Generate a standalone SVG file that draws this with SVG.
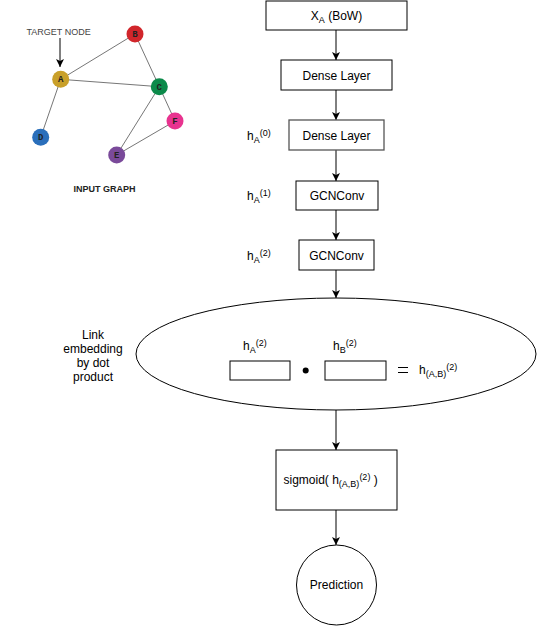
<svg xmlns="http://www.w3.org/2000/svg" width="537" height="626" viewBox="0 0 537 626">
<defs>
<marker id="arr" markerUnits="userSpaceOnUse" markerWidth="10" markerHeight="10" viewBox="0 0 10 10" refX="9" refY="5" orient="auto">
<path d="M1,1 L9,5 L1,9 L3,5 z" fill="#000"/>
</marker>
<style>
text{font-family:"Liberation Sans",Arial,sans-serif;font-size:12px;fill:#000}
.box{fill:#fff;stroke:#000;stroke-width:1}
.conn{stroke:#000;stroke-width:1;fill:none}
.edge{stroke:#666;stroke-width:0.9}
.nl{font-family:"Liberation Mono","Courier New",monospace;font-weight:bold;font-size:9px;fill:#222;text-anchor:middle}
.s{font-size:9px}
</style>
</defs>
<rect width="537" height="626" fill="#fff"/>

<g id="input-graph">
<g class="edge">
<line x1="60.7" y1="79.3" x2="135" y2="34"/>
<line x1="60.7" y1="79.3" x2="159.3" y2="86.7"/>
<line x1="60.7" y1="79.3" x2="40.7" y2="137.3"/>
<line x1="135" y1="34" x2="159.3" y2="86.7"/>
<line x1="159.3" y1="86.7" x2="175" y2="121"/>
<line x1="159.3" y1="86.7" x2="116.7" y2="155"/>
<line x1="116.7" y1="155" x2="175" y2="121"/>
</g>
<g id="node-B"><circle cx="135" cy="34" r="8.5" fill="#d1262b"/><text class="nl" x="135" y="37">B</text></g>
<g id="node-A"><circle cx="60.7" cy="79.3" r="8.5" fill="#c9a02a"/><text class="nl" x="60.7" y="82.3">A</text></g>
<g id="node-C"><circle cx="159.3" cy="86.7" r="8.5" fill="#0b8a4a"/><text class="nl" x="159.3" y="89.7">C</text></g>
<g id="node-F"><circle cx="175" cy="121" r="8.5" fill="#e8338f"/><text class="nl" x="175" y="124">F</text></g>
<g id="node-D"><circle cx="40.7" cy="137.3" r="8.5" fill="#2a6fbb"/><text class="nl" x="40.7" y="140.3">D</text></g>
<g id="node-E"><circle cx="116.7" cy="155" r="8.5" fill="#7a4a9a"/><text class="nl" x="116.7" y="158">E</text></g>
<text x="26.5" y="34.5" style="font-size:9px;fill:#444">TARGET NODE</text>
<line x1="60" y1="38" x2="60" y2="67" class="conn" marker-end="url(#arr)"/>
<text x="104.5" y="192" text-anchor="middle" style="font-size:9px;font-weight:bold;fill:#222">INPUT GRAPH</text>
</g>

<g id="connectors">
<line class="conn" x1="336" y1="30" x2="336" y2="60" marker-end="url(#arr)"/>
<line class="conn" x1="336" y1="90" x2="336" y2="120" marker-end="url(#arr)"/>
<line class="conn" x1="336" y1="150" x2="336" y2="181" marker-end="url(#arr)"/>
<line class="conn" x1="336" y1="210" x2="336" y2="240" marker-end="url(#arr)"/>
<line class="conn" x1="336" y1="270" x2="336" y2="298" marker-end="url(#arr)"/>
<line class="conn" x1="336" y1="410" x2="336" y2="450" marker-end="url(#arr)"/>
<line class="conn" x1="336" y1="510" x2="336" y2="545" marker-end="url(#arr)"/>
</g>

<g id="node-xa">
<rect class="box" x="266" y="1" width="141" height="29"/>
<text x="336.5" y="20" text-anchor="middle">X<tspan class="s" dy="3">A</tspan><tspan dy="-3"> (BoW)</tspan></text>
</g>
<g id="node-dense1">
<rect class="box" x="281" y="60" width="111" height="30"/>
<text x="336.5" y="80" text-anchor="middle">Dense Layer</text>
</g>
<g id="node-dense2">
<rect class="box" x="289" y="120" width="95" height="30" style="stroke:#555;stroke-width:1.3"/>
<text x="336.5" y="140" text-anchor="middle">Dense Layer</text>
<text x="247" y="140">h<tspan class="s" dy="3">A</tspan><tspan class="s" dy="-7">(0)</tspan></text>
</g>
<g id="node-gcn1">
<rect class="box" x="296" y="181" width="82" height="29"/>
<text x="337" y="200" text-anchor="middle">GCNConv</text>
<text x="247" y="200">h<tspan class="s" dy="3">A</tspan><tspan class="s" dy="-7">(1)</tspan></text>
</g>
<g id="node-gcn2">
<rect class="box" x="299" y="240" width="75" height="30"/>
<text x="336.5" y="260" text-anchor="middle">GCNConv</text>
<text x="247" y="260">h<tspan class="s" dy="3">A</tspan><tspan class="s" dy="-7">(2)</tspan></text>
</g>

<g id="node-link">
<ellipse cx="336" cy="354" rx="200" ry="56" fill="#fff" stroke="#000" stroke-width="1"/>
<text x="243" y="350">h<tspan class="s" dy="3">A</tspan><tspan class="s" dy="-7">(2)</tspan></text>
<text x="333" y="350">h<tspan class="s" dy="3">B</tspan><tspan class="s" dy="-7">(2)</tspan></text>
<rect class="box" x="230" y="361" width="60" height="19"/>
<rect class="box" x="325" y="361" width="61" height="19"/>
<circle cx="305.7" cy="370.5" r="3" fill="#000"/>
<line x1="398" y1="367.5" x2="408" y2="367.5" stroke="#000" stroke-width="1"/>
<line x1="398" y1="372.5" x2="408" y2="372.5" stroke="#000" stroke-width="1"/>
<text x="419" y="374">h<tspan class="s" dy="3">(A,B)</tspan><tspan class="s" dy="-7">(2)</tspan></text>
<text x="93" y="339" text-anchor="middle">Link</text>
<text x="93" y="353" text-anchor="middle">embedding</text>
<text x="93" y="367" text-anchor="middle">by dot</text>
<text x="93" y="381" text-anchor="middle">product</text>
</g>

<g id="node-sigmoid">
<rect class="box" x="276" y="450" width="121" height="60"/>
<text x="283.5" y="484">sigmoid( h<tspan class="s" dy="3">(A,B)</tspan><tspan class="s" dy="-7">(2)</tspan><tspan dy="4"> )</tspan></text>
</g>

<g id="node-prediction">
<circle cx="336.5" cy="585" r="40" fill="#fff" stroke="#000" stroke-width="1"/>
<text x="336.5" y="589" text-anchor="middle">Prediction</text>
</g>
</svg>
